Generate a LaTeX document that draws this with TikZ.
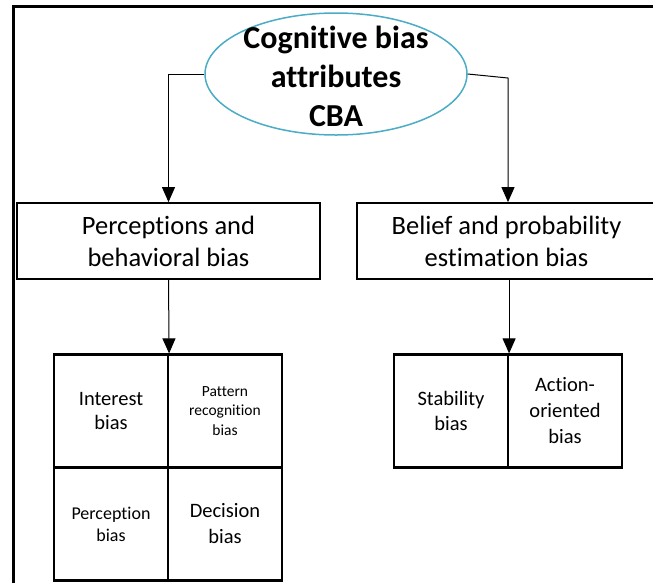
\documentclass[tikz,border=0pt]{standalone}
\usepackage{fontspec}
\setmainfont{Carlito}[Ligatures={NoCommon}]
\usetikzlibrary{shapes.geometric,arrows.meta}
\definecolor{ovalblue}{HTML}{4BACC6}
\begin{document}
\begin{tikzpicture}[x=1pt,y=-1pt,
  conn/.style={line width=1pt},
  arr/.style={conn,-{Triangle[width=13pt,length=15pt]}},
  box/.style={draw,line width=1.8pt,rectangle,inner sep=0pt,minimum height=76pt,align=center,font=\fontsize{26.5}{32}\selectfont},
  cell/.style={draw,line width=2.2pt,rectangle,inner sep=0pt,minimum width=114pt,minimum height=113pt,align=center},
]
\useasboundingbox (0,0) rectangle (653,582);
% outer frame
\draw[line width=3pt] (13,600) -- (13,6) -- (670,6);

% title oval
\node[ellipse,draw=ovalblue,line width=1.5pt,fill=white,minimum width=262pt,minimum height=122pt,inner sep=0pt] (cba) at (336,74) {};
\node[align=center,inner sep=0pt,font=\bfseries\fontsize{32}{39}\selectfont] (cbatext) at (336,76) {Cognitive bias\\attributes\\CBA};

% second level
\node[box,minimum width=303pt] (pbb) at (168.5,241) {Perceptions and\\behavioral bias};
\node[box,minimum width=299pt] (bpe) at (506.5,241) {Belief and probability\\estimation bias};

% left grid
\node[cell,font=\fontsize{20.5}{24.5}\selectfont] (ib) at (111,411) {Interest\\bias};
\node[cell,font=\fontsize{15.5}{19.5}\selectfont] (pr) at (225,411) {Pattern\\recognition\\bias};
\node[cell,font=\fontsize{18}{22}\selectfont] (pb) at (111,524) {\raisebox{-2pt}{\parbox{110pt}{\centering Perception\\bias}}};
\node[cell,font=\fontsize{20.5}{26}\selectfont] (db) at (225,524) {\raisebox{-2pt}{\parbox{110pt}{\centering Decision\\bias}}};

% right pair
\node[cell,font=\fontsize{20.5}{25}\selectfont] (sb) at (451,411) {Stability\\bias};
\node[cell,font=\fontsize{20.5}{26}\selectfont] (ao) at (565,411) {Action-\\oriented\\bias};

% connectors
\coordinate (rbend) at (508,78);
\draw[arr] (cba.west) -| (pbb.north);
\draw[arr] (cba.east) -- (rbend) -- (rbend |- bpe.north);
\draw[arr] (pbb.south) -- (ib.north east);
\draw[arr] (bpe.south -| sb.north east) -- (sb.north east);
\end{tikzpicture}
\end{document}
